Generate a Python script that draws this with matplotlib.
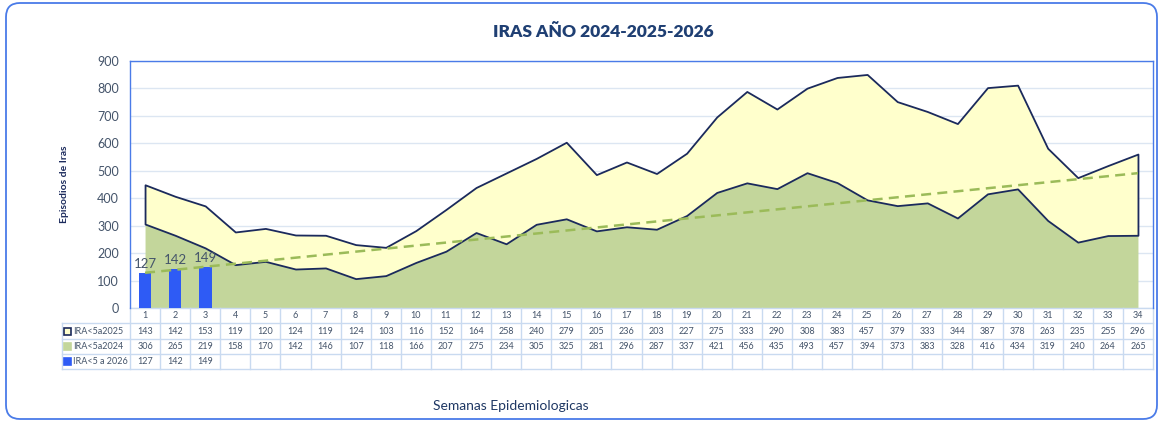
import matplotlib.pyplot as plt
import numpy as np
from matplotlib.patches import FancyBboxPatch, Rectangle
from matplotlib.transforms import blended_transform_factory

# Datos
semanas = list(range(1, 35))
ira_2025 = [143, 142, 153, 119, 120, 124, 119, 124, 103, 116, 152, 164, 258, 240, 279, 205, 236,
            203, 227, 275, 333, 290, 308, 383, 457, 379, 333, 344, 387, 378, 263, 235, 255, 296]
ira_2024 = [306, 265, 219, 158, 170, 142, 146, 107, 118, 166, 207, 275, 234, 305, 325, 281, 296,
            287, 337, 421, 456, 435, 493, 457, 394, 373, 383, 328, 416, 434, 319, 240, 264, 265]
ira_2026 = [127, 142, 149]
series_labels = ['IRA<5a2025', 'IRA<5a2024', 'IRA<5 a 2026']

# Colores
c_yellow = '#FFFFCC'
c_green = '#C3D69B'
c_navy = '#1B2A5C'
c_bar = '#2E5BF5'
c_trend = '#9BBB59'
c_grid = '#DCE6F2'
c_txt = '#44546A'
c_frame = '#4A7BE8'
c_table = '#C9DAF0'

plt.rcParams['font.family'] = ['Lato', 'DejaVu Sans']

W, H = 1159, 421
fig = plt.figure(figsize=(W / 100, H / 100), dpi=100)

# marco redondeado
frame = FancyBboxPatch((6 / W, 2 / H), 1151 / W, 416 / H, boxstyle='round,pad=0,rounding_size=0.012',
                       transform=fig.transFigure, fill=False, edgecolor=c_frame, linewidth=1.3,
                       mutation_aspect=W / H)
fig.patches.append(frame)

ax = fig.add_axes([130 / W, 1 - 308 / H, 1023 / W, 247 / H])

x = np.array(semanas)
y24 = np.array(ira_2024)
y25 = np.array(ira_2025)

ax.fill_between(x, 0, y24, color=c_green, linewidth=0, zorder=2)
ax.fill_between(x, y24, y24 + y25, facecolor=c_yellow, edgecolor=c_navy, linewidth=1.3, zorder=3)

x26 = np.arange(1, len(ira_2026) + 1)
ax.bar(x26, ira_2026, width=0.42, color=c_bar, zorder=4)
for xi, v in zip(x26, ira_2026):
    ax.text(xi, v + 12, str(v), ha='center', va='bottom', fontsize=9.5, color=c_txt, zorder=6)

# linea de tendencia (lineal) de 2026, proyectada hasta la semana 34
coef = np.polyfit(x26, ira_2026, 1)
ax.plot(x, np.polyval(coef, x), linestyle=(0, (4, 2.5)), color=c_trend, linewidth=1.8, zorder=5)

ax.set_xlim(0.5, 34.5)
ax.set_ylim(0, 900)
ax.set_yticks(range(0, 901, 100))
ax.tick_params(axis='y', length=0, labelsize=9, labelcolor=c_txt, pad=8)
ax.set_xticks([])
ax.grid(axis='y', color=c_grid, linewidth=1, zorder=0)
ax.set_axisbelow(True)
for s in ['left', 'top', 'right']:
    ax.spines[s].set_color(c_frame)
    ax.spines[s].set_linewidth(1)
ax.spines['bottom'].set_visible(False)

ax.set_ylabel('Episodios de Iras', fontsize=7.5, fontweight='bold', color=c_navy, labelpad=20)

fig.text(603 / W, 1 - 32 / H, 'IRAS AÑO 2024-2025-2026', ha='center', va='center',
         fontsize=12.5, fontweight='heavy', color='#1F3F73')
fig.text(511 / W, 1 - 406 / H, 'Semanas Epidemiologicas', ha='center', va='center',
         fontsize=10, color='#1F3864')

# tabla de datos
tr = blended_transform_factory(ax.transData, fig.transFigure)
rows_y = [308, 323, 339, 354, 369]
x_lab_left = 0.5 - 68 / (1023 / 34)

def fy(p):
    return 1 - p / H

# lineas horizontales
ax.plot([0.5, 34.5], [fy(rows_y[0])] * 2, transform=tr, color=c_table, lw=1, clip_on=False)
for yy in rows_y[1:]:
    ax.plot([x_lab_left, 34.5], [fy(yy)] * 2, transform=tr, color=c_table, lw=1, clip_on=False)
# lineas verticales
for k in range(35):
    ax.plot([0.5 + k] * 2, [fy(rows_y[0]), fy(rows_y[-1])], transform=tr, color=c_table, lw=1,
            clip_on=False)
ax.plot([x_lab_left] * 2, [fy(rows_y[1]), fy(rows_y[-1])], transform=tr, color=c_table, lw=1,
        clip_on=False)

for i, s in enumerate(semanas):
    ax.text(s, fy((rows_y[0] + rows_y[1]) / 2), str(s), transform=tr, ha='center', va='center',
            fontsize=6.5, color=c_txt, clip_on=False)

table_rows = [ira_2025, ira_2024, ira_2026]
key_colors = [(c_yellow, c_navy), (c_green, c_green), (c_bar, c_bar)]
for r, vals in enumerate(table_rows):
    yc = fy((rows_y[r + 1] + rows_y[r + 2]) / 2)
    for s, v in zip(semanas, vals):
        ax.text(s, yc, str(v), transform=tr, ha='center', va='center', fontsize=6.5, color=c_txt,
                clip_on=False)
    fc, ec = key_colors[r]
    fig.patches.append(Rectangle((64 / W, yc - 3.5 / H), 7 / W, 7 / H, transform=fig.transFigure,
                                 facecolor=fc, edgecolor=ec, linewidth=1.2))
    fig.text(73 / W, yc, series_labels[r], ha='left', va='center', fontsize=6.5, color=c_txt)

fig.savefig('out.png', dpi=100)
